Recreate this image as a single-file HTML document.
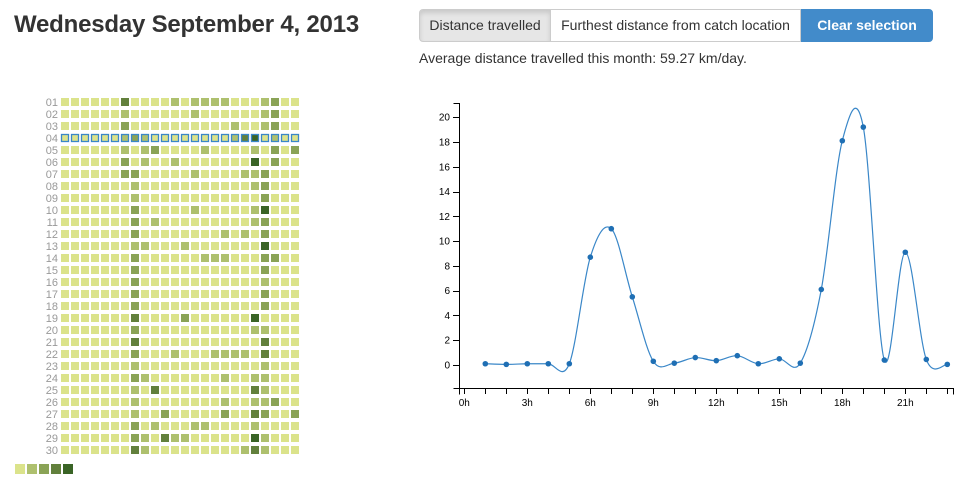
<!DOCTYPE html>
<html><head><meta charset="utf-8">
<style>
body{margin:0;width:968px;height:486px;background:#fff;font-family:"Liberation Sans",sans-serif;color:#333;position:relative;overflow:hidden}
#title{position:absolute;left:14px;top:11px;font-size:24px;font-weight:bold;margin:0;letter-spacing:-0.2px;color:#333;white-space:nowrap}
.btns{position:absolute;left:419px;top:9px;height:33px;display:flex}
.btn{height:33px;border:1px solid #ccc;font-size:14px;line-height:31px;box-sizing:border-box;background:#fff;color:#333;text-align:center;white-space:nowrap;font-family:"Liberation Sans",sans-serif}
.b1{width:132px;background:#e6e6e6;border-radius:4px 0 0 4px;box-shadow:inset 0 3px 5px rgba(0,0,0,.125)}
.b2{width:250px;border-left:none}
.b3{width:132px;background:#428bca;border-color:#428bca;color:#fff;font-weight:bold;border-radius:0 4px 4px 0}
#avg{position:absolute;left:419px;top:50px;font-size:14px;white-space:nowrap}
</style></head><body>
<h1 id="title">Wednesday September 4, 2013</h1>
<div class="btns">
<div class="btn b1">Distance travelled</div>
<div class="btn b2">Furthest distance from catch location</div>
<div class="btn b3">Clear selection</div>
</div>
<div id="avg">Average distance travelled this month: 59.27 km/day.</div>
<svg id="heat" width="310" height="486" style="position:absolute;left:0;top:0"></svg>
<svg id="chart" width="968" height="486" style="position:absolute;left:0;top:0;pointer-events:none"></svg>
<script>
const NS="http://www.w3.org/2000/svg";
const heatColors=["#dbe38b","#aec06e","#8aa356","#62803c","#3a6426"];
// sparse non-zero levels per day: [hour, level]
const dayLevels=[
[[6,3],[11,1],[13,1],[14,1],[15,1],[16,1],[20,1],[21,2]],
[[6,1],[13,1],[20,1],[21,2]],
[[6,2],[17,1],[20,1],[21,2]],
[[6,1],[7,2],[8,1],[17,1],[18,3],[19,4],[21,1]],
[[6,1],[8,1],[9,2],[14,1],[19,1],[21,2],[23,2]],
[[6,2],[8,1],[11,1],[19,4],[21,2]],
[[6,2],[7,2],[13,1],[18,1],[19,1],[20,2]],
[[7,1],[19,1],[20,2]],
[[7,1],[20,2]],
[[7,2],[13,1],[19,1],[20,4]],
[[7,2],[9,1],[19,1],[20,2]],
[[7,2],[16,1],[18,1],[20,2]],
[[7,1],[8,1],[12,1],[20,4]],
[[7,2],[14,1],[15,1],[16,1],[20,2],[21,2]],
[[7,2],[20,2]],
[[7,2],[20,1]],
[[7,2],[20,2]],
[[7,2],[20,2]],
[[7,3],[12,2],[19,4]],
[[7,2],[19,1],[20,1]],
[[7,3],[20,3]],
[[7,2],[11,1],[15,1],[16,1],[17,1],[18,1],[20,3]],
[[7,1],[20,1]],
[[7,2],[8,1],[16,1],[19,1],[20,1]],
[[7,1],[9,3],[19,3],[20,1]],
[[7,1],[16,1],[19,1],[20,1],[21,2]],
[[7,1],[10,2],[16,2],[19,3],[20,2],[23,2]],
[[7,2],[9,1],[13,1],[14,1],[19,1]],
[[7,2],[8,1],[10,3],[11,1],[12,1],[19,4],[20,1]],
[[7,3],[8,1],[18,1],[19,3],[20,1]]
];
const selectedDay=4;
const heat=document.getElementById('heat');
function mk(p,tag,attrs){const e=document.createElementNS(NS,tag);for(const k in attrs)e.setAttribute(k,attrs[k]);p.appendChild(e);return e;}
const cx=c=>61+c*10, ry=r=>98+r*12;
dayLevels.forEach((lv,r)=>{
  const lab=mk(heat,'text',{x:58,y:ry(r)+8,'text-anchor':'end','font-size':11,fill:'#999','font-family':'Liberation Sans, sans-serif'});
  lab.textContent=String(r+1).padStart(2,'0');
  
  
  const m={};lv.forEach(([h,l])=>m[h]=l);
  for(let c=0;c<24;c++){
    const sel=(r+1)===selectedDay;
    const rc=mk(heat,'rect',{x:cx(c)+(sel?0.5:0),y:ry(r)+(sel?0.5:0),width:sel?7:8,height:sel?7:8,fill:heatColors[m[c]||0]});
    if(sel){rc.setAttribute('stroke','#3a87c8');rc.setAttribute('stroke-width','1.3');}
    
    
  }
});
heatColors.forEach((c,i)=>{
  const r=mk(heat,'rect',{x:15+i*12,y:464,width:10,height:10,fill:c});
  
  
});

// line chart
const hours=[1,2,3,4,5,6,7,8,9,10,11,12,13,14,15,16,17,18,19,20,21,22,23];
const values=[0.1,0.05,0.1,0.1,0.1,8.7,11,5.5,0.3,0.15,0.6,0.35,0.75,0.1,0.5,0.15,6.1,18.1,19.2,0.4,9.1,0.45,0.05];
const yTicks=[0,2,4,6,8,10,12,14,16,18,20];
const xTicks=[0,3,6,9,12,15,18,21];
const ch=document.getElementById('chart');
const X=h=>464.3+h*21.0;
const Y=v=>365-v*12.39;
const f='Liberation Sans, sans-serif';
const yax=mk(ch,'g',{});


mk(yax,'path',{d:'M453.5,103.5H459.5V388.5H453.5',fill:'none',stroke:'#000'});
yTicks.forEach(t=>{
  mk(yax,'line',{x1:453,x2:459.5,y1:Math.round(Y(t))+0.5,y2:Math.round(Y(t))+0.5,stroke:'#000'});
  const tx=mk(yax,'text',{x:450,y:Y(t)+3.5,'text-anchor':'end','font-size':10,'font-family':f,fill:'#000'});
  tx.textContent=t;
});
const xax=mk(ch,'g',{});


mk(xax,'path',{d:'M459.5,394.5V388.5H953.5V394.5',fill:'none',stroke:'#000'});
for(let h=0;h<=23;h++){
  const x=Math.round(X(h))+0.5;
  mk(xax,'line',{x1:x,x2:x,y1:388,y2:394,stroke:'#000'});
}
xTicks.forEach(t=>{
  const tx=mk(xax,'text',{x:X(t),y:406,'text-anchor':'middle','font-size':10,'font-family':f,fill:'#000'});
  tx.textContent=t+'h';
});
// cardinal (catmull-rom) spline
const pts=hours.map((h,i)=>[X(h),Y(values[i])]);
let d='M'+pts[0][0]+','+pts[0][1];
for(let i=0;i<pts.length-1;i++){
  const p0=pts[i-1]||pts[i],p1=pts[i],p2=pts[i+1],p3=pts[i+2]||p2;
  const c1=[p1[0]+(p2[0]-p0[0])/6,p1[1]+(p2[1]-p0[1])/6];
  const c2=[p2[0]-(p3[0]-p1[0])/6,p2[1]-(p3[1]-p1[1])/6];
  d+='C'+c1+' '+c2+' '+p2;
}
const line=mk(ch,'path',{d:d,fill:'none',stroke:'#3a87c8','stroke-width':1.2});


pts.forEach(p=>{
  const c=mk(ch,'circle',{cx:p[0],cy:p[1],r:2.8,fill:'#1f6fb4'});
  
  
});
</script>
</body></html>
